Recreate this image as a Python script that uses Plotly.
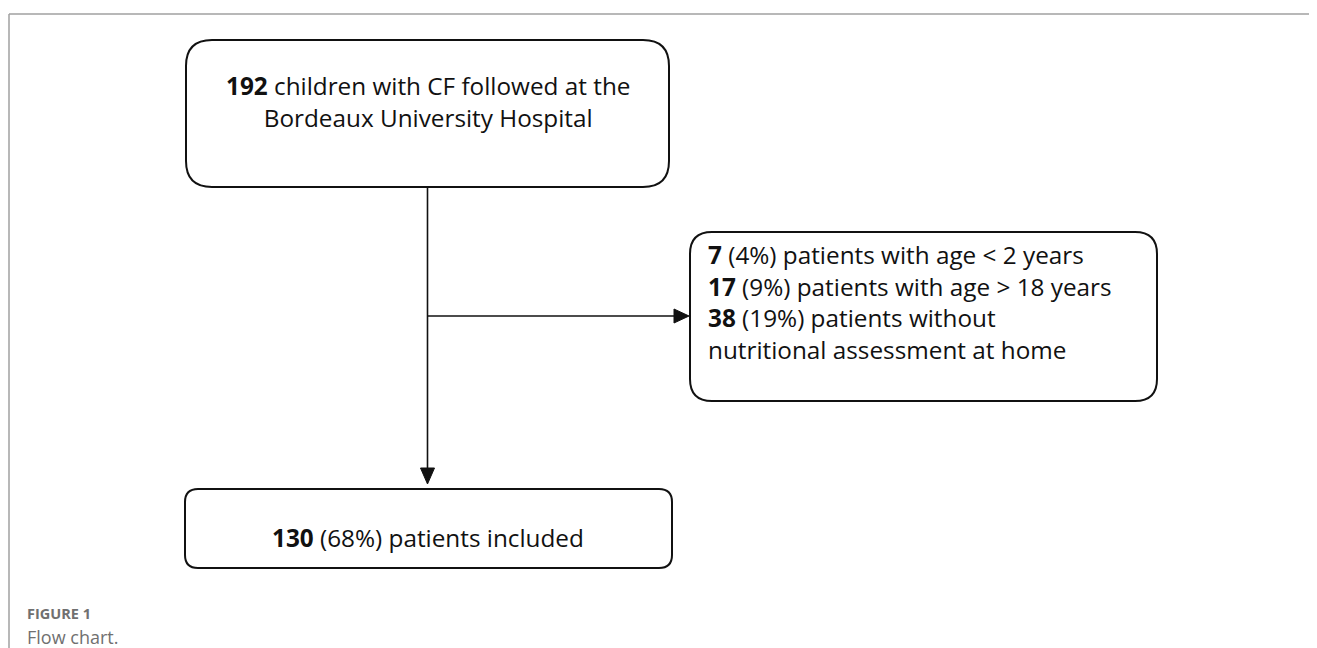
import plotly.graph_objects as go

# ---- data ----
total_n = 192
top_lines = [f"<b>{total_n}</b> children with CF followed at the", "Bordeaux University Hospital"]
excluded_counts = [7, 17, 38]
excluded_pcts = [4, 9, 19]
excluded_labels = ["patients with age < 2 years", "patients with age > 18 years",
                   "patients without"]
excluded_extra = "nutritional assessment at home"
included_n = 130
included_pct = 68
caption_title = "FIGURE 1"
caption_text = "Flow chart."

W, H = 1317, 648
OFF = 8  # page body margin
FONT = "Open Sans"
FS = 24.3
TXT = "#111111"

fig = go.Figure()
fig.add_trace(go.Scatter(x=[OFF, W], y=[OFF, H], mode="markers", marker=dict(opacity=0),
                         hoverinfo="skip", showlegend=False))

def rrect(x0, y0, x1, y1, r):
    return (f"M {x0+r},{y0} L {x1-r},{y0} Q {x1},{y0} {x1},{y0+r} "
            f"L {x1},{y1-r} Q {x1},{y1} {x1-r},{y1} L {x0+r},{y1} "
            f"Q {x0},{y1} {x0},{y1-r} L {x0},{y0+r} Q {x0},{y0} {x0+r},{y0} Z")

shapes = []
# frame
shapes.append(dict(type="line", x0=9, y0=14, x1=W + 5, y1=14, line=dict(color="#a0a0a0", width=1.5)))
shapes.append(dict(type="line", x0=9, y0=14, x1=9, y1=H + 5, line=dict(color="#a0a0a0", width=1.5)))
# boxes
box_line = dict(color="#111111", width=2)
shapes.append(dict(type="path", path=rrect(186, 40, 669, 187, 26), line=box_line))
shapes.append(dict(type="path", path=rrect(690, 232, 1157, 401, 22), line=box_line))
shapes.append(dict(type="path", path=rrect(185, 489, 672, 568, 13), line=box_line))
# connectors
cx = 427.5
shapes.append(dict(type="line", x0=cx, y0=187, x1=cx, y1=470, line=dict(color="#111111", width=1.6)))
shapes.append(dict(type="line", x0=cx, y0=316, x1=676, y1=316, line=dict(color="#111111", width=1.6)))
# arrow heads
shapes.append(dict(type="path", path=f"M {cx-7},468 L {cx+7},468 L {cx},484 Z",
                   fillcolor="#111111", line=dict(color="#111111", width=1)))
shapes.append(dict(type="path", path="M 674,309 L 674,323 L 689,316 Z",
                   fillcolor="#111111", line=dict(color="#111111", width=1)))

ann = []
ann.append(dict(x=cx, y=101.5, text="<br>".join(top_lines), showarrow=False, xanchor="center",
                yanchor="middle", align="center", font=dict(family=FONT, size=FS, color=TXT)))
right_lines = [f"<b>{c}</b> ({p}%) {l}" for c, p, l in zip(excluded_counts, excluded_pcts, excluded_labels)]
right_lines.append(excluded_extra)
ann.append(dict(x=706, y=302, text="<br>".join(right_lines), showarrow=False, xanchor="left",
                yanchor="middle", align="left", font=dict(family=FONT, size=FS, color=TXT)))
ann.append(dict(x=cx, y=537, text=f"<b>{included_n}</b> ({included_pct}%) patients included",
                showarrow=False, xanchor="center", yanchor="middle",
                font=dict(family=FONT, size=FS, color=TXT)))
ann.append(dict(x=25, y=613, text=f"<b>{caption_title}</b>", showarrow=False, xanchor="left", yanchor="middle",
                font=dict(family="Open Sans", size=14.5, color="#707070")))
ann.append(dict(x=25, y=637, text=caption_text, showarrow=False, xanchor="left", yanchor="middle",
                font=dict(family="Open Sans", size=18, color="#707070")))

fig.update_layout(
    width=W - OFF, height=H - OFF, margin=dict(l=0, r=0, t=0, b=0),
    paper_bgcolor="white", plot_bgcolor="white",
    xaxis=dict(range=[OFF, W], visible=False, fixedrange=True),
    yaxis=dict(range=[H, OFF], visible=False, fixedrange=True),
    shapes=shapes, annotations=ann, showlegend=False,
)
fig.write_html("out.html", config={"displayModeBar": False})
